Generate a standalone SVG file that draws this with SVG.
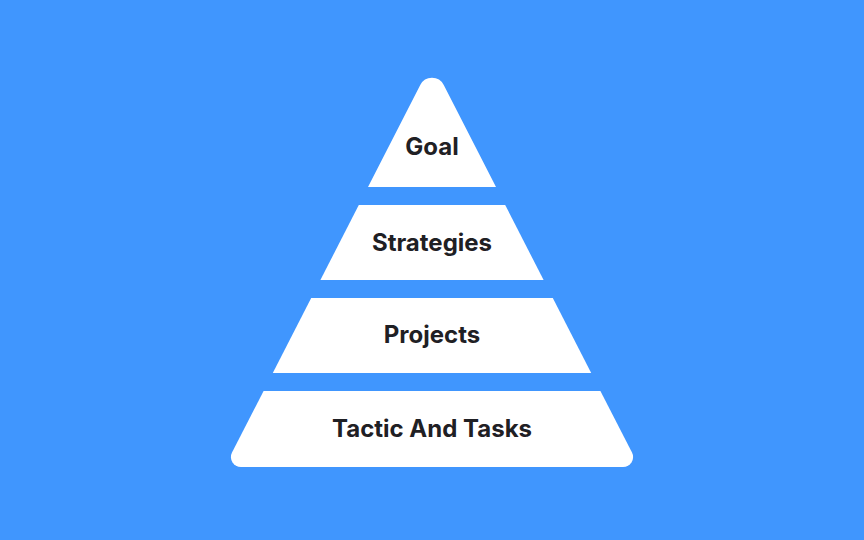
<svg xmlns="http://www.w3.org/2000/svg" width="864" height="540" viewBox="0 0 864 540">
  <style>
    .tier { fill: #ffffff; }
    .label { font-family: Inter, "Noto Sans", "Liberation Sans", sans-serif; font-weight: 700; font-size: 24px; fill: #1f2024; text-anchor: middle; }
  </style>
  <rect x="0" y="0" width="864" height="540" fill="#4096FE"/>
  <g id="goal">
    <path class="tier" d="M 368 187 L 420.25 85 A 13.2 13.2 0 0 1 443.75 85 L 496 187 Z"/>
    <text class="label" x="432" y="155">Goal</text>
  </g>
  <g id="strategies">
    <path class="tier" d="M 358.8 205 L 505.2 205 L 543.6 280 L 320.4 280 Z"/>
    <text class="label" x="432" y="250.5">Strategies</text>
  </g>
  <g id="projects">
    <path class="tier" d="M 311.2 298 L 552.8 298 L 591.2 373 L 272.8 373 Z"/>
    <text class="label" x="432" y="343">Projects</text>
  </g>
  <g id="tactic-and-tasks">
    <path class="tier" d="M 263.6 391 L 600.4 391 L 632 452.5 A 10 10 0 0 1 623.1 467 L 240.9 467 A 10 10 0 0 1 232 452.5 Z"/>
    <text class="label" x="432" y="437">Tactic And Tasks</text>
  </g>
  <g id="connectors"></g>
</svg>
